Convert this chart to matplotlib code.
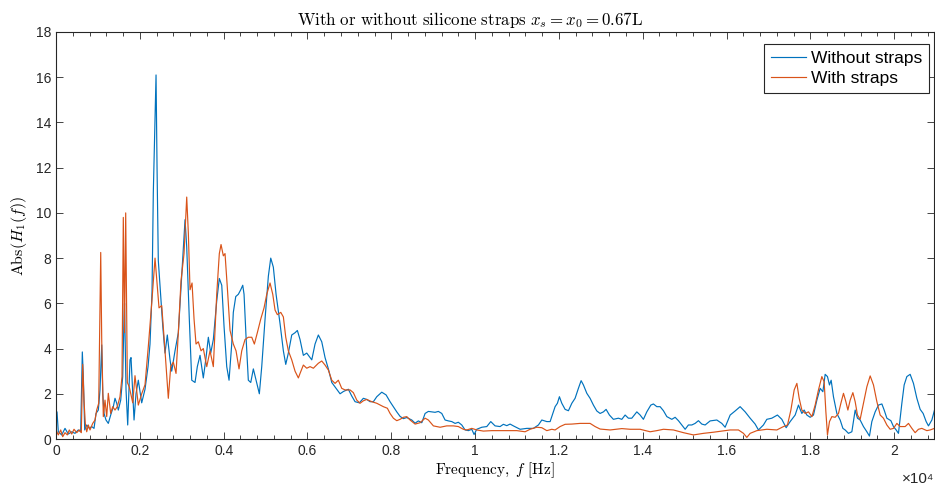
import matplotlib
matplotlib.use("Agg")
import matplotlib.pyplot as plt
from matplotlib.ticker import MultipleLocator, FuncFormatter

# ----------------------------------------------------------------------
# Data (frequency in Hz, |H1(f)|)
# ----------------------------------------------------------------------
freq_without = [
    0, 24, 55, 136, 215, 294, 375, 453, 532, 589, 628, 652, 685, 733, 795, 852,
    907, 955, 1010, 1050, 1091, 1115, 1146, 1193, 1248, 1305, 1368, 1408, 1449,
    1487, 1544, 1592, 1623, 1635, 1671, 1711, 1766, 1790, 1862, 1909, 1964,
    2045, 2124, 2196, 2243, 2291, 2322, 2387, 2411, 2441, 2499, 2547, 2601,
    2656, 2721, 2761, 2840, 2919, 3000, 3079, 3119, 3181, 3239, 3317, 3372,
    3437, 3515, 3580, 3635, 3692, 3754, 3835, 3897, 3955, 4009, 4074, 4129,
    4193, 4231, 4289, 4351, 4408, 4456, 4487, 4535, 4589, 4647, 4709, 4773,
    4852, 4909, 4988, 5067, 5124, 5186, 5251, 5346, 5425, 5482, 5544, 5625,
    5704, 5759, 5823, 5902, 5983, 6103, 6181, 6260, 6341, 6420, 6499, 6580,
    6659, 6778, 6857, 6976, 7057, 7136, 7239, 7334, 7415, 7494, 7573, 7654,
    7773, 7876, 7971, 8050, 8131, 8210, 8289, 8370, 8489, 8568, 8647, 8728,
    8807, 8885, 8966, 9045, 9124, 9205, 9284, 9363, 9444, 9523, 9601, 9682,
    9761, 9840, 9921, 9976, 10040, 10160, 10279, 10374, 10477, 10596, 10675,
    10756, 10835, 10914, 11074, 11234, 11391, 11511, 11592, 11711, 11790,
    11854, 11909, 11964, 12012, 12069, 12148, 12227, 12308, 12386, 12465,
    12530, 12585, 12666, 12744, 12823, 12904, 12983, 13062, 13126, 13205,
    13300, 13420, 13501, 13580, 13658, 13739, 13859, 13938, 14016, 14097,
    14193, 14255, 14336, 14415, 14494, 14575, 14694, 14773, 14852, 14933,
    15012, 15090, 15171, 15250, 15329, 15410, 15489, 15608, 15768, 15887,
    15966, 16086, 16205, 16324, 16444, 16563, 16682, 16761, 16880, 16961,
    17080, 17214, 17319, 17422, 17518, 17637, 17716, 17797, 17852, 17916,
    17995, 18074, 18155, 18234, 18298, 18353, 18408, 18456, 18496, 18551,
    18632, 18711, 18776, 18830, 18909, 18990, 19069, 19124, 19188, 19267,
    19348, 19410, 19467, 19546, 19625, 19706, 19761, 19825, 19921, 19983,
    20047, 20102, 20183, 20238, 20302, 20381, 20460, 20541, 20620, 20691,
    20763, 20818, 20899, 20962,
]
abs_without = [
    0.5, 1.2, 0.32, 0.18, 0.47, 0.22, 0.32, 0.25, 0.40, 0.32, 3.85, 2.76, 0.40,
    0.62, 0.47, 0.55, 0.47, 1.13, 1.28, 2.17, 4.16, 2.02, 1.13, 0.84, 0.69,
    1.06, 1.43, 1.80, 1.58, 1.28, 1.72, 2.76, 5.4, 6.0, 2.17, 0.62, 3.5, 3.6,
    0.84, 2.0, 2.6, 1.6, 2.2, 3.2, 4.2, 6.5, 10.9, 16.1, 12.0, 7.9, 6.3, 5.0,
    3.8, 4.6, 3.5, 3.0, 3.9, 4.7, 7.2, 9.7, 8.5, 5.3, 2.6, 2.5, 3.2, 3.7, 2.7,
    3.6, 4.5, 3.8, 4.4, 6.1, 7.1, 6.8, 5.0, 3.2, 2.6, 4.2, 5.6, 6.3, 6.4, 6.6,
    6.8, 6.4, 4.5, 2.6, 2.5, 3.1, 2.6, 2.0, 3.2, 5.3, 7.2, 8.0, 7.6, 6.4, 5.1,
    3.9, 3.3, 3.8, 4.6, 4.7, 4.8, 4.4, 3.7, 3.8, 3.5, 4.2, 4.6, 4.3, 3.6, 3.1,
    2.5, 2.3, 2.0, 2.1, 2.2, 1.9, 1.65, 1.6, 1.8, 1.75, 1.65, 1.65, 1.87,
    2.07, 1.95, 1.65, 1.43, 1.2, 1.0, 0.9, 0.95, 0.84, 0.7, 0.8, 0.72, 1.13,
    1.22, 1.2, 1.18, 1.22, 1.13, 0.84, 0.8, 0.77, 0.69, 0.74, 0.62, 0.4, 0.37,
    0.43, 0.2, 0.43, 0.52, 0.55, 0.77, 0.58, 0.55, 0.65, 0.59, 0.66, 0.58,
    0.43, 0.47, 0.47, 0.62, 0.84, 0.77, 0.77, 1.13, 1.43, 1.58, 1.87, 1.58,
    1.31, 1.25, 1.58, 1.80, 2.24, 2.58, 2.39, 2.02, 1.80, 1.50, 1.24, 1.13,
    1.20, 1.31, 1.06, 0.87, 0.92, 0.87, 1.06, 0.92, 0.92, 1.20, 1.06, 0.87,
    1.20, 1.50, 1.55, 1.43, 1.43, 1.25, 0.99, 0.87, 0.96, 0.81, 0.62, 0.43,
    0.62, 0.62, 0.69, 0.81, 0.66, 0.62, 0.80, 0.84, 0.69, 0.52, 1.06, 1.24,
    1.43, 1.20, 0.92, 0.66, 0.40, 0.62, 0.87, 0.92, 1.06, 0.87, 0.50, 0.77,
    1.06, 1.50, 1.13, 1.28, 1.06, 0.96, 1.06, 1.72, 2.24, 2.09, 2.86, 2.76,
    2.39, 2.60, 1.87, 1.13, 0.84, 0.47, 0.40, 0.25, 0.32, 1.28, 0.92, 0.84,
    0.55, 0.32, 0.13, 0.77, 1.20, 1.50, 1.55, 1.28, 0.92, 0.81, 0.55, 0.40,
    0.25, 1.58, 2.39, 2.76, 2.86, 2.46, 1.80, 1.31, 1.13, 0.77, 0.58, 0.84,
    1.28,
]

freq_with = [
    0, 55, 112, 160, 215, 270, 317, 375, 430, 494, 556, 604, 637, 668, 699,
    733, 771, 811, 876, 931, 971, 1019, 1067, 1091, 1129, 1169, 1210, 1248,
    1305, 1353, 1408, 1463, 1527, 1575, 1606, 1635, 1663, 1702, 1749, 1831,
    1885, 1964, 2045, 2124, 2203, 2284, 2363, 2418, 2458, 2523, 2601, 2680,
    2737, 2799, 2864, 2919, 2983, 3055, 3119, 3158, 3198, 3246, 3294, 3341,
    3396, 3461, 3515, 3597, 3675, 3754, 3835, 3897, 3938, 3993, 4033, 4088,
    4153, 4231, 4296, 4367, 4432, 4511, 4589, 4671, 4733, 4804, 4885, 4964,
    5029, 5107, 5172, 5227, 5282, 5363, 5425, 5482, 5544, 5625, 5704, 5783,
    5823, 5902, 5983, 6062, 6141, 6260, 6341, 6420, 6499, 6580, 6659, 6737,
    6818, 6897, 7017, 7095, 7177, 7255, 7334, 7415, 7534, 7654, 7811, 7907,
    7971, 8050, 8131, 8210, 8289, 8370, 8449, 8568, 8687, 8807, 8885, 9005,
    9165, 9324, 9482, 9601, 9720, 9802, 9921, 10040, 10198, 10398, 10596,
    10756, 10995, 11193, 11312, 11472, 11592, 11711, 11830, 11909, 12028,
    12148, 12308, 12506, 12744, 12864, 12983, 13222, 13501, 13699, 13938,
    14177, 14336, 14494, 14732, 14971, 15210, 15449, 15688, 15926, 16086,
    16284, 16404, 16484, 16563, 16723, 16961, 17200, 17358, 17454, 17535,
    17614, 17678, 17733, 17797, 17876, 17955, 18036, 18114, 18193, 18274,
    18329, 18370, 18408, 18456, 18513, 18592, 18671, 18728, 18790, 18847,
    18895, 18950, 19014, 19069, 19124, 19188, 19267, 19348, 19427, 19506,
    19587, 19666, 19744, 19825, 19904, 19983, 20064, 20143, 20262, 20341,
    20422, 20500, 20579, 20660, 20779, 20858, 20962,
]
abs_with = [
    0.40, 0.18, 0.40, 0.10, 0.28, 0.18, 0.40, 0.22, 0.43, 0.28, 0.40, 0.28,
    3.3, 1.72, 0.69, 0.32, 0.62, 0.40, 0.69, 0.84, 1.28, 1.58, 8.25, 4.38,
    0.99, 1.72, 0.99, 2.02, 1.13, 1.43, 1.28, 1.43, 1.87, 2.76, 9.8, 4.7,
    10.0, 2.5, 2.3, 1.6, 2.8, 1.5, 2.0, 2.4, 4.1, 6.0, 8.0, 6.7, 5.8, 5.9,
    3.9, 1.8, 3.2, 3.4, 2.9, 4.7, 7.0, 8.2, 10.7, 9.1, 6.6, 6.9, 5.3, 4.2,
    4.3, 3.9, 4.0, 3.2, 3.9, 3.2, 6.4, 8.2, 8.6, 8.1, 8.2, 6.7, 4.8, 4.2, 3.9,
    3.1, 3.9, 4.4, 4.5, 4.5, 4.2, 4.7, 5.3, 5.8, 6.4, 6.9, 6.4, 5.7, 5.5, 5.6,
    5.4, 4.5, 3.9, 3.5, 3.0, 2.7, 2.9, 3.27, 3.13, 3.2, 3.13, 3.35, 3.45,
    3.27, 3.05, 2.6, 2.46, 2.6, 2.24, 2.17, 2.17, 2.05, 1.72, 1.58, 1.69,
    1.75, 1.65, 1.58, 1.43, 1.36, 1.13, 0.92, 0.81, 0.87, 0.96, 0.99, 0.84,
    0.66, 0.72, 0.92, 0.84, 0.58, 0.52, 0.58, 0.58, 0.55, 0.43, 0.40, 0.47,
    0.40, 0.35, 0.37, 0.37, 0.37, 0.37, 0.32, 0.43, 0.52, 0.50, 0.37, 0.43,
    0.40, 0.55, 0.65, 0.66, 0.69, 0.69, 0.55, 0.44, 0.40, 0.46, 0.43, 0.43,
    0.32, 0.37, 0.43, 0.40, 0.28, 0.18, 0.25, 0.30, 0.36, 0.40, 0.40, 0.25,
    0.07, 0.25, 0.37, 0.43, 0.40, 0.55, 0.62, 1.28, 2.17, 2.46, 1.80, 1.28,
    1.13, 1.20, 0.99, 1.50, 2.17, 2.76, 2.53, 1.20, 0.18, 0.77, 0.99, 0.96,
    1.13, 1.58, 2.02, 1.65, 1.28, 1.72, 2.05, 1.65, 1.06, 0.87, 1.58, 2.31,
    2.79, 2.39, 1.65, 1.06, 0.92, 0.62, 0.43, 0.47, 0.69, 0.55, 0.55, 0.69,
    0.47, 0.28, 0.43, 0.47, 0.37, 0.40, 0.47,
]

# ----------------------------------------------------------------------
# Plot (MATLAB-like look)
# ----------------------------------------------------------------------
plt.rcParams["mathtext.fontset"] = "cm"
plt.rcParams["font.family"] = ["Liberation Sans", "DejaVu Sans"]

fig = plt.figure(figsize=(9.35, 4.86), dpi=100)
ax = fig.add_axes([56 / 935, 47 / 486, 878 / 935, 407 / 486])

ax.plot(freq_without, abs_without, color="#0072BD", lw=0.85, label="Without straps")
ax.plot(freq_with, abs_with, color="#D95319", lw=0.85, label="With straps")

ax.set_xlim(0, 20950)
ax.set_ylim(0, 18)
ax.xaxis.set_major_locator(MultipleLocator(2000))
ax.xaxis.set_minor_locator(MultipleLocator(400))
ax.yaxis.set_major_locator(MultipleLocator(2))
ax.xaxis.set_major_formatter(FuncFormatter(lambda v, p: "%g" % (v / 1e4)))
ax.tick_params(which="both", direction="in", top=True, right=True,
               labelsize=10, colors="#262626")
ax.tick_params(which="major", length=5, width=0.6)
ax.tick_params(which="minor", length=3, width=0.6)
for s in ax.spines.values():
    s.set_color("#262626")
    s.set_linewidth(0.8)

ax.set_title(r"$\mathrm{With\ or\ without\ silicone\ straps}\ x_s = x_0 = 0.67\mathrm{L}$",
             fontsize=12.2, pad=5, x=0.4715)
ax.set_xlabel(r"$\mathrm{Frequency,}\ f\ \mathrm{[Hz]}$", fontsize=11, labelpad=2)
ax.set_ylabel(r"$\mathrm{Abs}(H_1(f))$", fontsize=11.5, labelpad=5)
ax.text(1.0, -0.082, "×10⁴", transform=ax.transAxes, ha="right", va="top",
        fontsize=11, color="#262626")

leg = ax.legend(loc="upper right", bbox_to_anchor=(0.9943, 0.9705),
                borderaxespad=0, fontsize=12.5, fancybox=False, framealpha=1,
                edgecolor="#262626", handlelength=2.0, handletextpad=0.3,
                borderpad=0.4, labelspacing=0.3)
leg.get_frame().set_linewidth(0.8)

fig.savefig("out.png", dpi=100)
